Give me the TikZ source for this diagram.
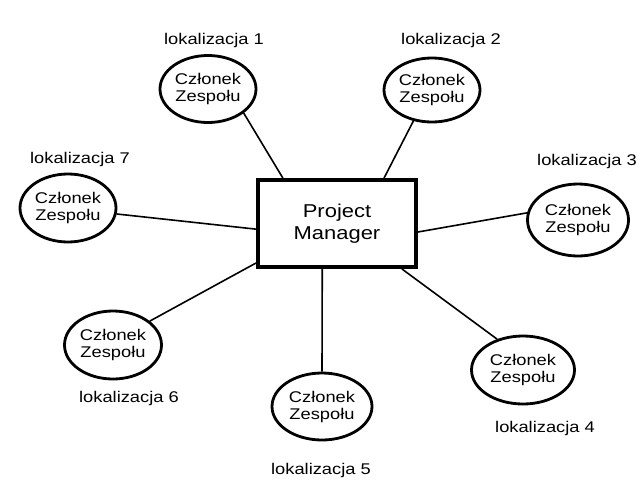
\documentclass[tikz,border=0pt]{standalone}
\usepackage{fontspec}
\setmainfont{Liberation Sans}
\newfontfamily\wideface[FakeStretch=1.18]{Liberation Sans}
\usetikzlibrary{shapes.geometric}

\begin{document}
\begin{tikzpicture}[x=1pt,y=-1pt,
    member/.style={draw, ellipse, line width=2.8pt, inner sep=0pt,
      minimum width=96pt, minimum height=67pt, align=center,
      font=\wideface\fontsize{15.5}{17}\selectfont},
    place/.style={font=\wideface\fontsize{15.5}{18}\selectfont},
    manager/.style={draw, rectangle, line width=3.8pt, minimum width=158pt,
      minimum height=87pt, align=center,
      font=\wideface\fontsize{18.6}{22}\selectfont},
    link/.style={line width=1.6pt}]
            \useasboundingbox (0,0) rectangle (639,482);
            \node[manager] (pm) at (337,223.5) {Project\\Manager};
            \node[member] (e1) at (208,89) {Członek\\Zespołu};
            \node[member, minimum height=64pt] (e2) at (432,90) {Członek\\Zespołu};
            \node[member, minimum width=101pt, minimum height=72pt] (e3) at (578,220) {Członek\\Zespołu};
            \node[member, minimum height=68pt] (e7) at (68,208) {Członek\\Zespołu};
            \node[member, minimum width=97pt, minimum height=68pt] (e6) at (113,345) {Członek\\Zespołu};
            \node[member, minimum width=100pt] (e5) at (322,406.5) {Członek\\Zespołu};
            \node[member, minimum width=103pt, minimum height=68pt] (e4) at (523,370) {Członek\\Zespołu};
            \node[place] (l1) at (214,40) {lokalizacja 1};
            \node[place] (l2) at (451,40) {lokalizacja 2};
            \node[place] (l3) at (587,161) {lokalizacja 3};
            \node[place] (l7) at (80,159) {lokalizacja 7};
            \node[place] (l6) at (129,398) {lokalizacja 6};
            \node[place] (l5) at (321,470) {lokalizacja 5};
            \node[place] (l4) at (545,428) {lokalizacja 4};
            \draw[link] (e1.-34) -- (pm.140);
            \draw[link] (e2.-121) -- (pm.44);
            \draw[link] (e3.172) -- (pm.-6);
            \draw[link] (e7.-7) -- (pm.184);
            \draw[link] (e6.33) -- (pm.206);
            \draw[link] (e5.90) -- (pm.252);
            \draw[link] (e4.130) -- (pm.-35);
        \end{tikzpicture}
\end{document}
